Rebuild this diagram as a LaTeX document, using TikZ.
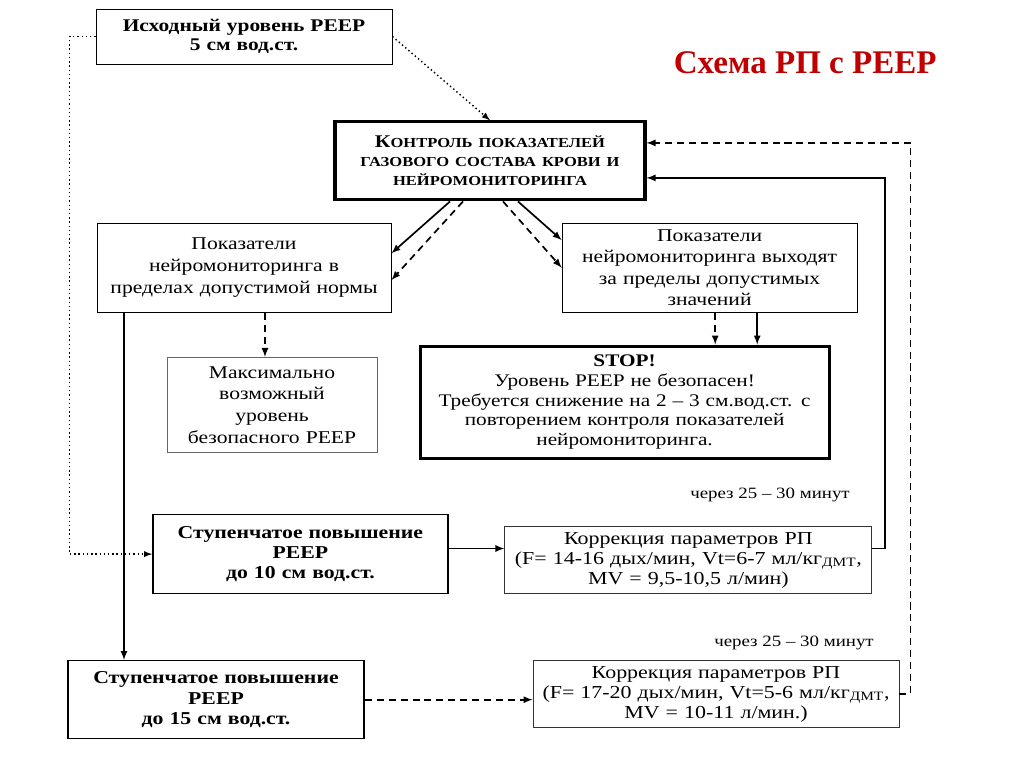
\documentclass[tikz,border=0pt]{standalone}
\usepackage{fontspec}
\setmainfont{Liberation Serif}
\newfontfamily\shirokiy{Liberation Serif}[FakeStretch=1.2]
\usetikzlibrary{calc}
\definecolor{zagolovok}{RGB}{192,0,0}
\newcommand{\kapit}[1]{{\fontsize{9.8}{13.5}\selectfont #1}}

\begin{document}
\begin{tikzpicture}
        \tikzstyle {blok} = [rectangle, text centered, inner xsep=0pt, draw=black, line width=0.6pt, font=\shirokiy\fontsize{12.8}{15.4}\selectfont]
        \tikzstyle {blok_zhirn} = [rectangle, text centered, inner xsep=0pt, draw=black, line width=1pt, font=\shirokiy\bfseries\fontsize{12.9}{14.4}\selectfont]
        \tikzstyle {blok_tolst} = [rectangle, text centered, inner xsep=0pt, draw=black, line width=2.2pt]
        \tikzstyle {korrekcia} = [rectangle, text centered, inner xsep=0pt, draw=black!80, line width=0.6pt, text width=9.15cm, minimum height=1.675cm, font=\shirokiy\fontsize{13}{14.2}\selectfont]
        \tikzstyle {primech} = [font=\shirokiy\fontsize{11.2}{12}\selectfont]
        \tikzstyle {strelka} = [line width=1.2pt, -latex]
        \tikzstyle {strelka_punktir} = [strelka, dash pattern=on 5pt off 3.5pt]
        \tikzstyle {strelka_tochki} = [line width=1pt, dotted, -latex]
        \useasboundingbox (0,0) rectangle (25.6,-19.2);

        \node (init) [blok_zhirn, line width=0.6pt, text width=7.4cm, minimum height=1.375cm, font=\shirokiy\bfseries\fontsize{12.7}{13}\selectfont] at (6.1,-0.9125) {Исходный уровень PEEP\\5 см вод.ст.};
        \node (title) [right of=init, xshift=13.03cm, yshift=-0.66cm, text=zagolovok, font=\bfseries\fontsize{23.5}{26}\selectfont]{Схема РП с PEEP};
        \node (ctrl) [blok_tolst, below of=init, xshift=6.15cm, yshift=-2.11cm, text width=7.75cm, minimum height=1.95cm, font=\shirokiy\bfseries\fontsize{12.7}{13.5}\selectfont]{К\kapit{ОНТРОЛЬ ПОКАЗАТЕЛЕЙ}\\\kapit{ГАЗОВОГО СОСТАВА КРОВИ И}\\\kapit{НЕЙРОМОНИТОРИНГА}};

        \node (normal) [blok, below of=init, yshift=-4.78cm, text width=7.35cm, minimum height=2.225cm]{Показатели\\нейромониторинга в\\пределах допустимой нормы};
        \node (out) [blok, right of=normal, xshift=10.64cm, text width=7.375cm, minimum height=2.225cm]{Показатели\\нейромониторинга выходят\\за пределы допустимых\\значений};
        \node (max) [blok, draw=black!60, below of=normal, xshift=0.7cm, yshift=-2.43cm, text width=5.25cm, minimum height=2.375cm]{Максимально\\возможный\\уровень\\безопасного PEEP};
        \node (stop) [blok_tolst, below of=out, xshift=-2.125cm, yshift=-2.36cm, text width=10.225cm, minimum height=2.8cm, font=\shirokiy\fontsize{12.6}{14}\selectfont]{\textbf{STOP!}\\Уровень PEEP не безопасен!\\Требуется снижение на 2 – 3 см.вод.ст. с\\повторением контроля показателей\\нейромониторинга.};

        \node (step10) [blok_zhirn, below of=max, xshift=0.71cm, yshift=-2.73cm, text width=7.375cm, minimum height=1.975cm]{Ступенчатое повышение\\PEEP\\до 10 см вод.ст.};
        \node (korr1) [korrekcia, right of=step10, xshift=8.7cm, yshift=-0.15cm, text width=9.175cm]{Коррекция параметров РП\\(F= 14-16 дых/мин, Vt=6-7 мл/кг\textsubscript{ДМТ},\\MV = 9,5-10,5 л/мин)};
        \node (note1) [primech, above of=korr1, xshift=2.04cm, yshift=0.64cm]{через 25 – 30 минут};
        \node (step15) [blok_zhirn, below of=step10, xshift=-2.11cm, yshift=-2.64cm, text width=7.4cm, minimum height=1.95cm]{Ступенчатое повышение\\PEEP\\до 15 см вод.ст.};
        \node (korr2) [korrekcia, right of=step15, xshift=11.5cm, yshift=0.14cm]{Коррекция параметров РП\\(F= 17-20 дых/мин, Vt=5-6 мл/кг\textsubscript{ДМТ},\\MV = 10-11 л/мин.)};
        \node (note2) [primech, above of=korr2, xshift=1.95cm, yshift=0.29cm]{через 25 – 30 минут};

        \draw[strelka_tochki] (init.east) -- (ctrl.north);
        \draw[strelka_tochki] (init.west) -- ++(-0.65,0) |- (step10.west);
        \draw[strelka] ($(ctrl.south)+(-1,0)$) -- ($(normal.east)+(0,0.36)$);
        \draw[strelka_punktir] ($(ctrl.south)+(-0.675,0)$) -- ($(normal.east)+(0,-0.31)$);
        \draw[strelka_punktir] ($(ctrl.south)+(0.325,0)$) -- (out.west);
        \draw[strelka] ($(ctrl.south)+(0.7,0)$) -- ($(out.west)+(0,0.69)$);
        \coordinate (n1) at ($(normal.south)+(0.525,0)$);
        \draw[strelka_punktir] (n1) -- (n1 |- max.north);
        \coordinate (o1) at ($(out.south)+(0.14,0)$);
        \coordinate (o2) at ($(out.south)+(1.19,0)$);
        \draw[strelka_punktir] (o1) -- (o1 |- stop.north);
        \draw[strelka] (o2) -- (o2 |- stop.north);
        \coordinate (n2) at ($(normal.south)+(-3,0)$);
        \draw[strelka] (n2) -- (n2 |- step15.north);
        \coordinate (k1) at ($(korr1.west)+(0,0.29)$);
        \coordinate (k2) at ($(korr1.east)+(0,0.29)$);
        \draw[strelka] (k1 -| step10.east) -- (k1);
        \draw[strelka] (k2) -- ++(0.325,0) |- ($(ctrl.east)+(0,-0.425)$);
        \draw[strelka_punktir] (korr2.east) -- ++(0.275,0) |- ($(ctrl.east)+(0,0.45)$);
        \draw[strelka_punktir] (step15.east) -- (step15.east -| korr2.west);
    \end{tikzpicture}
\end{document}
